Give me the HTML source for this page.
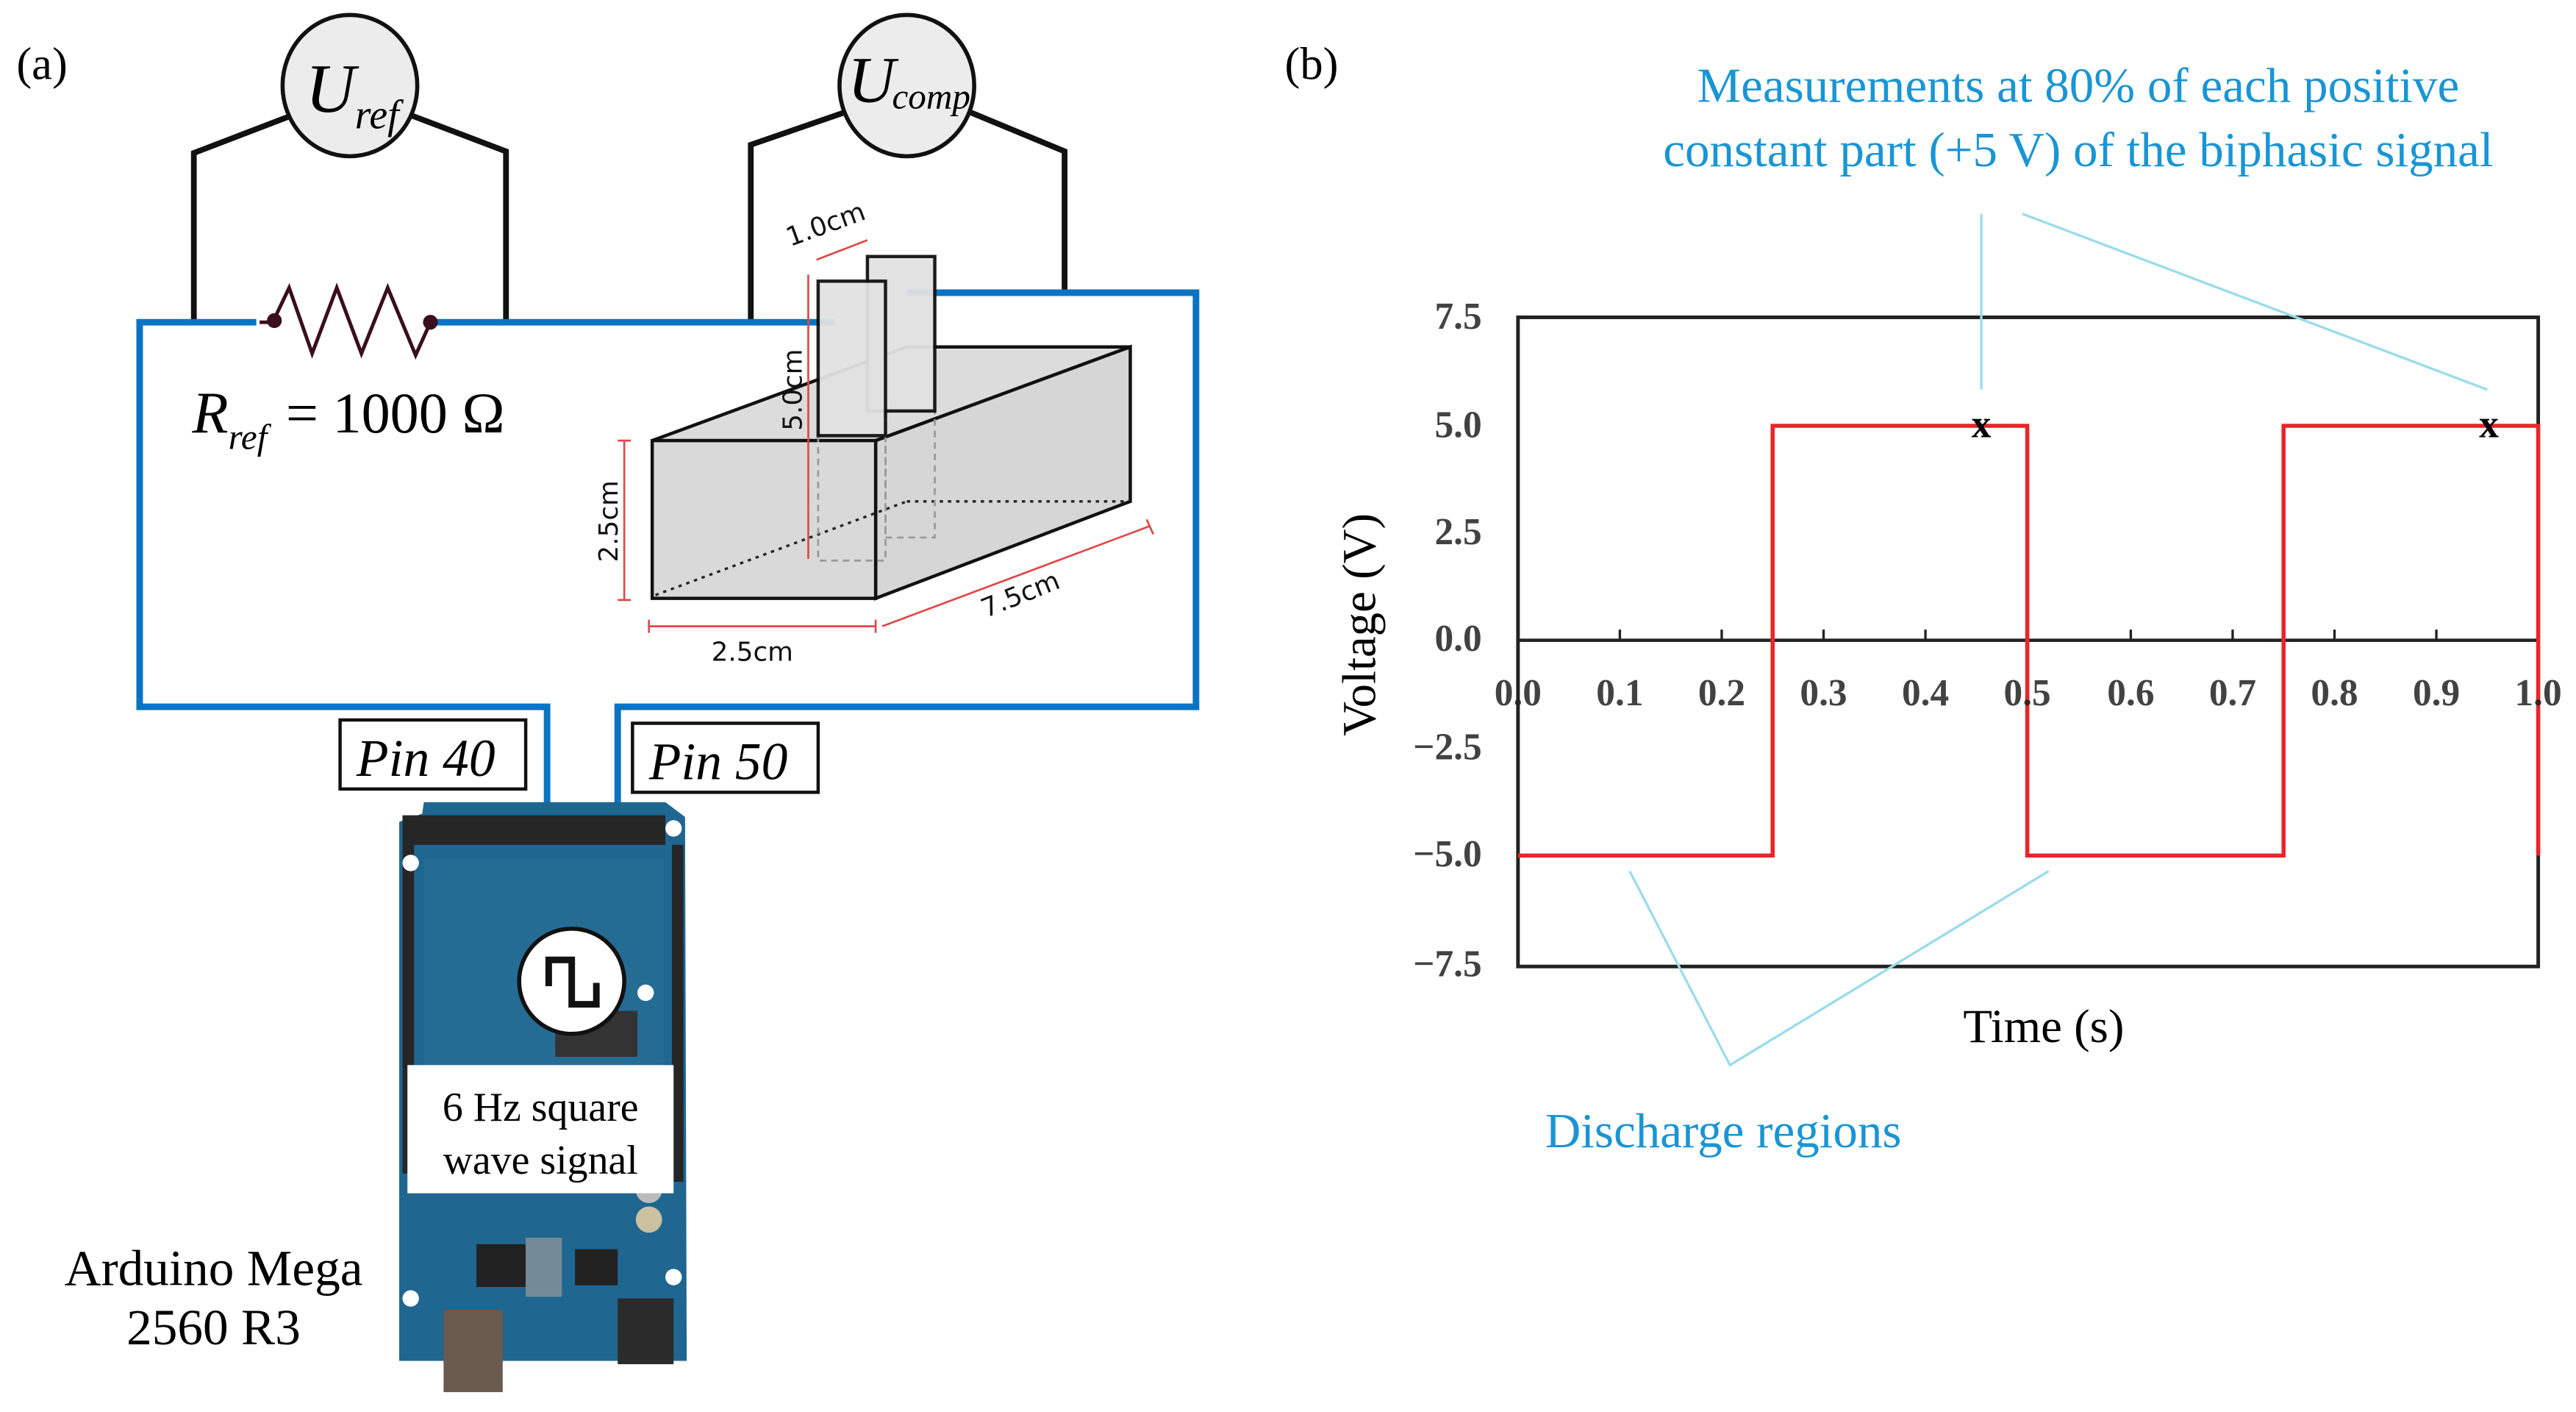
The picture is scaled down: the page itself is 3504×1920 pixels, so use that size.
<!DOCTYPE html>
<html><head><meta charset="utf-8"><style>html,body{margin:0;padding:0;background:#fff}svg{display:block}</style></head>
<body>
<svg width="3504" height="1920" viewBox="0 0 1568 859" xmlns="http://www.w3.org/2000/svg" font-family="Liberation Serif, serif">
<rect width="1568" height="859" fill="#fff"/>
<text x="10" y="48" font-size="28">(a)</text>
<text x="782" y="48" font-size="28">(b)</text>
<g stroke="#111" stroke-width="3.5" fill="none">
<polyline points="178,70 118,93 118,196"/>
<polyline points="250,70 308,92 308,196"/>
<polyline points="515,68 457,88 457,196"/>
<polyline points="590,68 648,92 648,178"/>
</g>
<ellipse cx="213" cy="52" rx="41" ry="43" fill="#ececec" stroke="#111" stroke-width="2.5"/>
<text x="186" y="68" font-size="42" font-style="italic">U</text><text x="216" y="78" font-size="25" font-style="italic">ref</text>
<ellipse cx="552" cy="52" rx="41" ry="43" fill="#ececec" stroke="#111" stroke-width="2.5"/>
<text x="516" y="62" font-size="40" font-style="italic">U</text><text x="543" y="66" font-size="22" font-style="italic">comp</text>
<g stroke="#0a74c4" stroke-width="4" fill="none">
<polyline points="156,196 85,196 85,430 333,430 333,494"/>
<polyline points="265,196 508,196"/>
<polyline points="552,178 728,178 728,430 376,430 376,494"/>
</g>
<polyline points="158,196 166,196 176,175 190,215 205,175 220,215 236,175 253,216 262,196" fill="none" stroke="#3a0e1e" stroke-width="2.2"/>
<circle cx="167" cy="195" r="4.5" fill="#3a0e1e"/><circle cx="262" cy="196" r="4.5" fill="#3a0e1e"/>
<text x="117" y="263" font-size="36" font-style="italic">R</text><text x="139" y="273" font-size="22" font-style="italic">ref</text><text x="174" y="263" font-size="35">= 1000 Ω</text>
<polygon points="397,268 552,211 688,211 533,268" fill="#dcdcdc" stroke="#111" stroke-width="2"/>
<polygon points="533,268 688,211 688,305 533,364" fill="#d6d6d6" stroke="#111" stroke-width="2"/>
<rect x="397" y="268" width="136" height="96" fill="#d9d9d9" stroke="#111" stroke-width="2"/>
<g stroke="#222" stroke-width="1.5" stroke-dasharray="2,3" fill="none">
<line x1="399" y1="362" x2="552" y2="305"/><line x1="552" y1="305" x2="686" y2="305"/>
</g>
<g stroke="#999" stroke-width="1.2" stroke-dasharray="4,3" fill="none">
<polyline points="498,265 498,341 539,341 539,265"/><polyline points="539,250 539,327 569,327 569,250"/>
</g>
<rect x="528" y="156" width="41" height="94" fill="#e2e2e2" stroke="#111" stroke-width="2" opacity="0.95"/>
<rect x="498" y="171" width="41" height="94" fill="#e2e2e2" stroke="#111" stroke-width="2" opacity="0.95"/>
<g stroke="#e04848" stroke-width="1.2" fill="none">
<line x1="497" y1="158" x2="528" y2="146"/>
<line x1="492" y1="167" x2="492" y2="340"/>
<line x1="380" y1="268" x2="380" y2="365"/><line x1="376" y1="268" x2="384" y2="268"/><line x1="376" y1="365" x2="384" y2="365"/>
<line x1="395" y1="381" x2="533" y2="381"/><line x1="395" y1="377" x2="395" y2="385"/><line x1="533" y1="377" x2="533" y2="385"/>
<line x1="537" y1="381" x2="700" y2="320"/><line x1="698" y1="316" x2="702" y2="325"/>
</g>
<g font-family="DejaVu Sans, sans-serif" font-size="16" fill="#111">
<text x="481" y="150" transform="rotate(-20 481 150)">1.0cm</text>
<text x="488" y="262" transform="rotate(-90 488 262)">5.0cm</text>
<text x="376" y="342" transform="rotate(-90 376 342)">2.5cm</text>
<text x="433" y="402">2.5cm</text>
<text x="600" y="376" transform="rotate(-22 600 376)">7.5cm</text>
</g>
<rect x="207" y="438" width="113" height="42" fill="#fff" stroke="#111" stroke-width="2"/>
<text x="217" y="472" font-size="32" font-style="italic">Pin 40</text>
<rect x="385" y="440" width="113" height="42" fill="#fff" stroke="#111" stroke-width="2"/>
<text x="395" y="474" font-size="32" font-style="italic">Pin 50</text>
<polygon points="243,500 257,495 258,488 405,488 417,497 418,828 243,828" fill="#1f6690"/>
<rect x="245" y="496" width="160" height="18" fill="#262626"/>
<rect x="245" y="514" width="7" height="200" fill="#262626"/>
<rect x="409" y="514" width="7" height="205" fill="#262626"/>
<rect x="258" y="522" width="146" height="130" fill="#2a6f9a" opacity="0.6"/>
<rect x="338" y="615" width="50" height="28" fill="#333"/>
<rect x="290" y="757" width="30" height="26" fill="#222"/>
<rect x="320" y="753" width="22" height="36" fill="#9a9a9a" opacity="0.7"/>
<rect x="350" y="760" width="26" height="22" fill="#222"/>
<rect x="270" y="797" width="36" height="50" fill="#6b5a4e"/>
<rect x="376" y="790" width="34" height="40" fill="#2b2b2b"/>
<circle cx="395" cy="724" r="8" fill="#bbb"/><circle cx="395" cy="742" r="8" fill="#c9c1a0"/>
<circle cx="410" cy="504" r="5" fill="#fff"/><circle cx="250" cy="525" r="5" fill="#fff"/><circle cx="393" cy="604" r="5" fill="#fff"/><circle cx="250" cy="790" r="5" fill="#fff"/><circle cx="410" cy="777" r="5" fill="#fff"/>
<circle cx="348" cy="597" r="32" fill="#fff" stroke="#111" stroke-width="2.5"/>
<polyline points="334,600 334,584 348,584 348,611 363,611 363,598" fill="none" stroke="#111" stroke-width="4"/>
<rect x="248" y="648" width="162" height="78" fill="#fff"/>
<text x="329" y="682" font-size="25" text-anchor="middle">6 Hz square</text>
<text x="329" y="714" font-size="25" text-anchor="middle">wave signal</text>
<text x="130" y="782" font-size="31" text-anchor="middle">Arduino Mega</text>
<text x="130" y="818" font-size="31" text-anchor="middle">2560 R3</text>
<rect x="924" y="193" width="621" height="395" fill="none" stroke="#222" stroke-width="2.2"/>
<line x1="924" y1="389.5" x2="1545" y2="389.5" stroke="#222" stroke-width="2"/>
<g stroke="#222" stroke-width="1.5">
<line x1="986" y1="389" x2="986" y2="383"/><line x1="1048" y1="389" x2="1048" y2="383"/><line x1="1110" y1="389" x2="1110" y2="383"/><line x1="1172" y1="389" x2="1172" y2="383"/><line x1="1234" y1="389" x2="1234" y2="383"/><line x1="1297" y1="389" x2="1297" y2="383"/><line x1="1359" y1="389" x2="1359" y2="383"/><line x1="1421" y1="389" x2="1421" y2="383"/><line x1="1483" y1="389" x2="1483" y2="383"/>
</g>
<polyline points="924,520.5 1079,520.5 1079,259 1234,259 1234,520.5 1390,520.5 1390,259 1545,259 1545,520.5" fill="none" stroke="#e8262a" stroke-width="2.5"/>
<text x="1206" y="266" font-size="24" font-weight="bold" text-anchor="middle">x</text>
<text x="1515" y="266" font-size="24" font-weight="bold" text-anchor="middle">x</text>
<g font-size="23" fill="#222" text-anchor="end" font-weight="bold" opacity="0.85">
<text x="902" y="200">7.5</text><text x="902" y="266">5.0</text><text x="902" y="331">2.5</text><text x="902" y="396">0.0</text><text x="902" y="462">−2.5</text><text x="902" y="527">−5.0</text><text x="902" y="594">−7.5</text>
</g>
<g font-size="23" fill="#222" text-anchor="middle" font-weight="bold" opacity="0.85">
<text x="924" y="429">0.0</text><text x="986" y="429">0.1</text><text x="1048" y="429">0.2</text><text x="1110" y="429">0.3</text><text x="1172" y="429">0.4</text><text x="1234" y="429">0.5</text><text x="1297" y="429">0.6</text><text x="1359" y="429">0.7</text><text x="1421" y="429">0.8</text><text x="1483" y="429">0.9</text><text x="1545" y="429">1.0</text>
</g>
<text x="1244" y="634" font-size="29" text-anchor="middle">Time (s)</text>
<text x="837" y="380" font-size="29" text-anchor="middle" transform="rotate(-90 837 380)">Voltage (V)</text>
<g stroke="#9bdcea" stroke-width="1.5" fill="none">
<polyline points="1206,130 1206,237"/><polyline points="1231,130 1514,237"/>
<polyline points="992,530 1053,648 1247,530"/>
</g>
<g fill="#1a95d4" font-size="30" text-anchor="middle">
<text x="1265" y="62">Measurements at 80% of each positive</text>
<text x="1265" y="101">constant part (+5 V) of the biphasic signal</text>
<text x="1049" y="698">Discharge regions</text>
</g>
</svg>
</body></html>
